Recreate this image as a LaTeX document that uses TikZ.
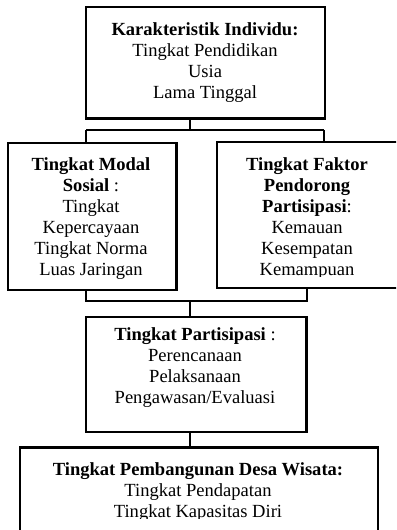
\documentclass[tikz,border=0pt]{standalone}
\usepackage{fontspec}
\setmainfont{Liberation Serif}
\begin{document}
\begin{tikzpicture}[x=0.75pt,y=-0.75pt,
  box/.style={draw, line width=2.1pt, rectangle, inner sep=0pt, outer sep=0pt},
  link/.style={line width=1.5pt},
  txt/.style={align=center, inner sep=0pt, anchor=north, font=\fontsize{13.9}{15.75}\selectfont}]
\clip (0,0) rectangle (396,530);
% boxes
\node[box, minimum width=179.25pt, minimum height=83.6pt] (top) at (205.5,62.75) {};
\node[box, minimum width=126.4pt, minimum height=110.25pt] (left) at (92.25,216.5) {};
\node[box, minimum width=137.25pt, minimum height=109.5pt] (right) at (308.5,215) {};
\node[box, minimum width=165.4pt, minimum height=86.25pt] (part) at (196.25,374.5) {};
\node[box, minimum width=268.5pt, minimum height=73.1pt] (bottom) at (199,496.25) {};
% texts
\node[txt] (ttop) at (205,22) {\textbf{Karakteristik Individu:}\\Tingkat Pendidikan\\Usia\\Lama Tinggal};
\begin{scope}
\clip (8,143) rectangle (176,279);
\node[txt] (tleft) at (91,157) {\textbf{Tingkat Modal}\\\textbf{Sosial} :\\Tingkat\\Kepercayaan\\Tingkat Norma\\Luas Jaringan};
\end{scope}
\begin{scope}
\clip (217,142) rectangle (400,276);
\node[txt] (tright) at (307,157) {\textbf{Tingkat Faktor}\\\textbf{Pendorong}\\\textbf{Partisipasi}:\\Kemauan\\Kesempatan\\Kemampuan};
\end{scope}
\node[txt] (tpart) at (195,327.4) {\textbf{Tingkat Partisipasi} :\\Perencanaan\\Pelaksanaan\\Pengawasan/Evaluasi};
\begin{scope}
\clip (20,447) rectangle (378,518);
\node[txt] (tbottom) at (198,462) {\textbf{Tingkat Pembangunan Desa Wisata:}\\Tingkat Pendapatan\\Tingkat Kapasitas Diri};
\end{scope}
% connectors
\coordinate (j1) at (190,130);
\coordinate (l1) at (86,130);
\coordinate (r1) at (324,130);
\draw[link] (j1 |- top.south) -- (j1);
\draw[link] (l1) -- (r1);
\draw[link] (l1) -- (l1 |- left.north);
\draw[link] (r1) -- (r1 |- right.north);
\coordinate (l2) at (86,301);
\coordinate (r2) at (307,301);
\coordinate (j2) at (190,301);
\draw[link] (l2 |- left.south) -- (l2) -- (r2) -- (r2 |- right.south);
\draw[link] (j2) -- (j2 |- part.north);
\coordinate (j3) at (190,440);
\draw[link] (j3 |- part.south) -- (j3 |- bottom.north);
\end{tikzpicture}
\end{document}
